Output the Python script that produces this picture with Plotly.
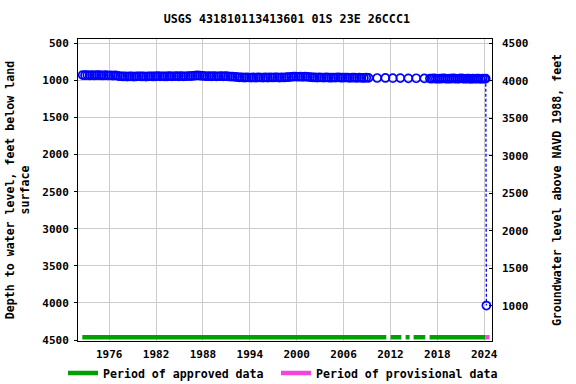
import plotly.graph_objects as go

# ---- data (decimal years, depth in feet below land surface) ----
dense_years = [
    1972.6, 1972.9, 1973.2, 1973.5, 1973.8, 1974.1, 1974.4, 1974.7, 1975.0, 1975.3,
    1975.6, 1975.9, 1976.2, 1976.5, 1976.8, 1977.1, 1977.4, 1977.7, 1978.0, 1978.3,
    1978.6, 1978.9, 1979.2, 1979.5, 1979.8, 1980.1, 1980.4, 1980.7, 1981.0, 1981.3,
    1981.6, 1981.9, 1982.2, 1982.5, 1982.8, 1983.1, 1983.4, 1983.7, 1984.0, 1984.3,
    1984.6, 1984.9, 1985.2, 1985.5, 1985.8, 1986.1, 1986.4, 1986.7, 1987.0, 1987.3,
    1987.6, 1987.9, 1988.2, 1988.5, 1988.8, 1989.1, 1989.4, 1989.7, 1990.0, 1990.3,
    1990.6, 1990.9, 1991.2, 1991.5, 1991.8, 1992.1, 1992.4, 1992.7, 1993.0, 1993.3,
    1993.6, 1993.9, 1994.2, 1994.5, 1994.8, 1995.1, 1995.4, 1995.7, 1996.0, 1996.3,
    1996.6, 1996.9, 1997.2, 1997.5, 1997.8, 1998.1, 1998.4, 1998.7, 1999.0, 1999.3,
    1999.6, 1999.9, 2000.2, 2000.5, 2000.8, 2001.1, 2001.4, 2001.7, 2002.0, 2002.3,
    2002.6, 2002.9, 2003.2, 2003.5, 2003.8, 2004.1, 2004.4, 2004.7, 2005.0, 2005.3,
    2005.6, 2005.9, 2006.2, 2006.5, 2006.8, 2007.1, 2007.4, 2007.7, 2008.0, 2008.3,
    2008.6, 2008.9,
]
dense_depth = [
    928, 930, 927, 931, 929, 932, 930, 928, 931, 933,
    930, 934, 932, 935, 933, 938, 944, 947, 946, 948,
    945, 947, 949, 946, 944, 947, 945, 948, 946, 944,
    947, 945, 943, 946, 944, 947, 945, 943, 946, 944,
    942, 945, 943, 946, 944, 941, 943, 938, 936, 933,
    935, 938, 941, 944, 942, 945, 943, 946, 944, 942,
    945, 943, 946, 948, 950, 952, 955, 958, 960, 962,
    959, 961, 963, 960, 962, 958, 961, 963, 960, 962,
    959, 961, 958, 960, 962, 959, 961, 957, 955, 952,
    950, 948, 951, 949, 952, 950, 953, 956, 958, 960,
    962, 959, 961, 963, 960, 962, 964, 961, 963, 960,
    962, 964, 961, 963, 965, 962, 964, 966, 963, 965,
    967, 964,
]
sparse_years = [2009.2, 2010.3, 2011.35, 2012.3, 2013.26, 2014.29, 2015.3, 2016.33]
sparse_depth = [966, 968, 967, 970, 969, 972, 971, 973]
recent_years = [
    2017.05, 2017.3, 2017.55, 2017.8, 2018.05, 2018.3, 2018.55, 2018.8, 2019.05, 2019.3,
    2019.55, 2019.8, 2020.05, 2020.3, 2020.55, 2020.8, 2021.05, 2021.3, 2021.55, 2021.8,
    2022.05, 2022.3, 2022.55, 2022.8, 2023.05, 2023.3, 2023.55, 2023.8, 2024.05, 2024.2,
]
recent_depth = [
    975, 977, 974, 976, 978, 975, 977, 973, 976, 978,
    975, 977, 974, 976, 978, 975, 972, 976, 978, 975,
    977, 979, 976, 978, 975, 977, 979, 976, 978, 977,
]
outlier_year = [2024.28]
outlier_depth = [4035]

approved_periods = [(1972.55, 2011.47), (2012.02, 2013.39), (2013.94, 2014.45),
                    (2014.96, 2016.46), (2017.01, 2024.17)]
provisional_periods = [(2024.17, 2024.68)]
bar_depth = 4462

x_ticks = [1976, 1982, 1988, 1994, 2000, 2006, 2012, 2018, 2024]
left_ticks = [500, 1000, 1500, 2000, 2500, 3000, 3500, 4000, 4500]
right_ticks = [1000, 1500, 2000, 2500, 3000, 3500, 4000, 4500]

BLUE = "#0000ff"
GREEN = "#00a000"
PINK = "#f046dc"
FONT = "DejaVu Sans Mono"

fig = go.Figure()

marker = dict(symbol="circle-open", size=8, color=BLUE, line=dict(width=1.7, color=BLUE))

all_years = dense_years + sparse_years + recent_years
all_depth = dense_depth + sparse_depth + recent_depth
fig.add_trace(go.Scatter(x=all_years, y=all_depth, mode="markers", marker=marker,
                         showlegend=False, hoverinfo="x+y"))
# dashed connection to the last (provisional) measurement
fig.add_trace(go.Scatter(x=[recent_years[-1], outlier_year[0]],
                         y=[recent_depth[-1], outlier_depth[0]],
                         mode="lines", line=dict(color=BLUE, width=1.3, dash="3px,2px"),
                         showlegend=False, hoverinfo="skip"))
fig.add_trace(go.Scatter(x=outlier_year, y=outlier_depth, mode="markers", marker=marker,
                         showlegend=False))

# period bars
for i, (a, b) in enumerate(approved_periods):
    fig.add_trace(go.Scatter(x=[a, b], y=[bar_depth, bar_depth], mode="lines",
                             line=dict(color=GREEN, width=4.5),
                             name="Period of approved data", legendgroup="ap",
                             legend="legend", showlegend=(i == 0), hoverinfo="skip"))
for i, (a, b) in enumerate(provisional_periods):
    fig.add_trace(go.Scatter(x=[a, b], y=[bar_depth, bar_depth], mode="lines",
                             line=dict(color=PINK, width=4.5),
                             name="Period of provisional data", legendgroup="pr",
                             legend="legend2", showlegend=(i == 0), hoverinfo="skip"))

# invisible trace to instantiate the right axis
fig.add_trace(go.Scatter(x=[x_ticks[0]], y=[right_ticks[0]], yaxis="y2", mode="markers",
                         marker=dict(opacity=0), showlegend=False, hoverinfo="skip"))

axis_font = dict(family=FONT, size=11, color="black", weight="bold")
legend_font = dict(family=FONT, size=11.6, color="black", weight="bold")
fig.update_layout(
    width=576, height=384,
    margin=dict(l=78, r=84, t=39, b=43, autoexpand=False),
    paper_bgcolor="white", plot_bgcolor="white",
    font=dict(family=FONT, size=11.6, color="black", weight="bold"),
    title=dict(text="USGS 431810113413601 01S 23E 26CCC1", x=0.498, xanchor="center",
               y=0.95, yanchor="middle",
               font=dict(family=FONT, size=11.7, color="black", weight="bold")),
    xaxis=dict(range=[1972.0, 2025.0], tickvals=x_ticks, ticktext=[str(t) for t in x_ticks],
               showgrid=True, gridcolor="#cccccc", gridwidth=1, zeroline=False,
               showline=True, linecolor="black", linewidth=1, mirror=True,
               ticks="", tickfont=axis_font, ticklabelstandoff=3),
    yaxis=dict(range=[4513, 442], tickvals=left_ticks, ticktext=[str(t) for t in left_ticks],
               showgrid=True, gridcolor="#cccccc", gridwidth=1, zeroline=False,
               showline=True, linecolor="black", linewidth=1, mirror=True,
               ticks="outside", ticklen=3, tickcolor="black", tickfont=axis_font,
               ticklabelstandoff=3,
               title=dict(text="Depth to water level, feet below land<br>surface",
                          font=legend_font, standoff=10)),
    yaxis2=dict(range=[529, 4557], overlaying="y", side="right", tickvals=right_ticks,
                ticktext=[str(t) for t in right_ticks], showgrid=False, zeroline=False,
                ticks="inside", ticklen=3, tickcolor="black", tickfont=axis_font,
                ticklabelstandoff=9,
                title=dict(text="Groundwater level above NAVD 1988, feet",
                           font=legend_font, standoff=25)),
    legend=dict(orientation="h", xref="container", yref="container",
                x=63 / 576, xanchor="left", y=(384 - 373) / 384, yanchor="middle",
                font=legend_font, itemwidth=30, bgcolor="rgba(0,0,0,0)",
                borderwidth=0),
    legend2=dict(orientation="h", xref="container", yref="container",
                 x=276 / 576, xanchor="left", y=(384 - 373) / 384, yanchor="middle",
                 font=legend_font, itemwidth=30, bgcolor="rgba(0,0,0,0)",
                 borderwidth=0),
    showlegend=True,
)

fig.write_html("out.html", config={"displayModeBar": False},
               post_script="document.body.style.margin='0';")
